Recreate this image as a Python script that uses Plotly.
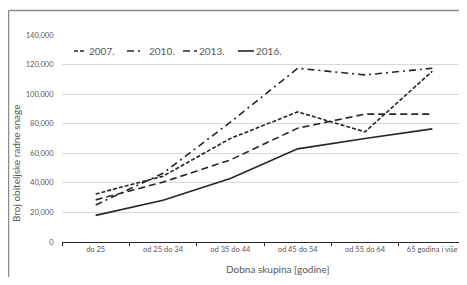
import plotly.graph_objects as go

categories = ["do 25", "od 25 do 34", "od 35 do 44", "od 45 do 54", "od 55 do 64", "65 godina i više"]
series_names = ["2007.", "2010.", "2013.", "2016."]
v2007 = [32500, 44500, 70000, 88000, 74500, 115500]
v2010 = [25000, 46500, 81000, 117500, 113000, 117500]
v2013 = [28500, 40500, 55500, 77000, 86500, 86500]
v2016 = [18000, 28200, 43000, 63000, 70000, 76500]
y_ticks = [0, 20000, 40000, 60000, 80000, 100000, 120000, 140000]
y_ticktext = ["0", "20,000", "40,000", "60,000", "80,000", "100,000", "120,000", "140,000"]

values = [v2007, v2010, v2013, v2016]
dashes = ["4px,2px", "7px,4px,2px,4px", "7px,4px", "solid"]
ink = "#262626"
gray = "#595959"
font_family = "Lato, 'Open Sans', sans-serif"

fig = go.Figure()
for name, vals, d in zip(series_names, values, dashes):
    fig.add_trace(go.Scatter(x=categories, y=vals, mode="lines", name=name,
                             line=dict(color=ink, width=1.6, dash=d)))

# the page body has an 8px margin, so work in window pixels and offset
OFF = 8
W, H = 459, 269
ml, mr, mt, mb = 54, 1, 27, 35
pw, ph = W - ml - mr, H - mt - mb

def px_to_paper_x(px):
    return (px - OFF - ml) / pw

def px_to_paper_y(py):
    return (H - mb - (py - OFF)) / ph

# manual legend (Excel style short samples)
leg_items = [(74, 86, 87), (127, 141, 147), (183, 197, 197), (238, 254, 254)]
ly = px_to_paper_y(51)
shapes = []
annotations = []
for (x0, x1, tx), name, d in zip(leg_items, series_names, dashes):
    shapes.append(dict(type="line", xref="paper", yref="paper",
                       x0=px_to_paper_x(x0), x1=px_to_paper_x(x1), y0=ly, y1=ly,
                       line=dict(color=ink, width=1.6, dash=d)))
    annotations.append(dict(text=name, xref="paper", yref="paper", x=px_to_paper_x(tx), y=ly,
                            xanchor="left", yanchor="middle", showarrow=False,
                            font=dict(size=10, color=gray, family=font_family)))

# outer chart border (only top and left edges are visible in the crop)
border = dict(color="#8c8c8c", width=1.5)
shapes.append(dict(type="line", xref="paper", yref="paper",
                   x0=px_to_paper_x(8.5), x1=px_to_paper_x(480),
                   y0=px_to_paper_y(10.5), y1=px_to_paper_y(10.5), line=border, layer="below"))
shapes.append(dict(type="line", xref="paper", yref="paper",
                   x0=px_to_paper_x(8.5), x1=px_to_paper_x(8.5),
                   y0=px_to_paper_y(10.5), y1=px_to_paper_y(300), line=border, layer="below"))

annotations.append(dict(text="Broj obiteljske radne snage", xref="paper", yref="paper",
                        x=px_to_paper_x(16), y=px_to_paper_y(163), textangle=-90,
                        xanchor="center", yanchor="middle", showarrow=False,
                        font=dict(size=10, color=gray, family=font_family)))
annotations.append(dict(text="Dobna skupina [godine]", xref="paper", yref="paper",
                        x=px_to_paper_x(277), y=px_to_paper_y(269),
                        xanchor="center", yanchor="middle", showarrow=False,
                        font=dict(size=10, color=gray, family=font_family)))

fig.update_layout(
    width=W, height=H,
    margin=dict(l=ml, r=mr, t=mt, b=mb),
    paper_bgcolor="white", plot_bgcolor="white",
    showlegend=False,
    shapes=shapes, annotations=annotations,
    xaxis=dict(showgrid=False, showline=True, linecolor=ink, linewidth=1.3,
               ticks="outside", tickson="boundaries", ticklen=3, tickcolor=ink, tickwidth=1,
               tickfont=dict(size=7.5, color=gray, family=font_family),
               range=[-0.5, 5.5], fixedrange=True, automargin=False),
    yaxis=dict(range=[0, 140000], tickvals=y_ticks, ticktext=y_ticktext,
               showgrid=True, gridcolor="#d9d9d9", gridwidth=1, zeroline=False,
               showline=False, ticks="outside", ticklen=6, tickcolor="rgba(0,0,0,0)",
               tickfont=dict(size=7.5, color=gray, family=font_family), automargin=False),
)

fig.write_html("out.html")
